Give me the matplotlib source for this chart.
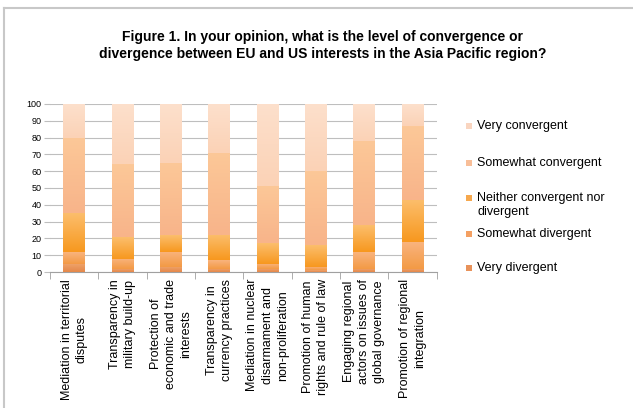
import numpy as np
import matplotlib
matplotlib.use("Agg")
import matplotlib.pyplot as plt
from matplotlib.colors import to_rgb
from matplotlib.patches import Rectangle
from matplotlib.lines import Line2D

plt.rcParams['font.family'] = ['Liberation Sans', 'DejaVu Sans']

categories = [
    "Mediation in territorial\ndisputes",
    "Transparency in\nmilitary build-up",
    "Protection of\neconomic and trade\ninterests",
    "Transparency in\ncurrency practices",
    "Mediation in nuclear\ndisarmament and\nnon-proliferation",
    "Promotion of human\nrights and rule of law",
    "Engaging regional\nactors on issues of\nglobal governance",
    "Promotion of regional\nintegration",
]

# percent of answers, bottom to top of each bar
very_div = [5, 2, 3, 2, 2, 1, 2, 2]
some_div = [7, 6, 9, 5, 3, 2, 10, 16]
neither = [23, 13, 10, 15, 12, 13, 16, 25]
some_conv = [45, 43, 43, 49, 34, 44, 50, 44]
very_conv = [20, 36, 35, 29, 49, 40, 22, 13]

series_names = ["Very divergent", "Somewhat divergent",
                "Neither convergent nor\ndivergent", "Somewhat convergent",
                "Very convergent"]
series = [very_div, some_div, neither, some_conv, very_conv]

# gradient colours (top, bottom) for each series
grad = [("#EFA46C", "#E5884A"),
        ("#F9B47E", "#F39A45"),
        ("#FCBE6C", "#F7981F"),
        ("#FCC898", "#F8B48A"),
        ("#FDE0CC", "#FBD2B6")]
legend_cols = ["#E8925A", "#F4A062", "#F6A84E", "#F8BE98", "#F9D5C0"]

fig = plt.figure(figsize=(6.33, 4.08), dpi=100)
ax = fig.add_axes([0.079, 0.3333, 0.611, 0.412])

x = np.arange(len(categories))
width = 0.45
bottom = np.zeros(len(categories))
for vals, (ctop, cbot) in zip(series, grad):
    bars = ax.bar(x, vals, width, bottom=bottom, color="none", edgecolor="none", zorder=2)
    top_rgb = np.array(to_rgb(ctop))
    bot_rgb = np.array(to_rgb(cbot))
    t = np.linspace(0, 1, 64)[:, None]
    img = (top_rgb * (1 - t) + bot_rgb * t)[:, None, :]
    for b in bars:
        x0, y0 = b.get_x(), b.get_y()
        w, h = b.get_width(), b.get_height()
        if h <= 0:
            continue
        ax.imshow(img, extent=(x0, x0 + w, y0, y0 + h), aspect="auto",
                  origin="upper", zorder=3, interpolation="bilinear")
    bottom += np.array(vals)

ax.set_xlim(-0.5, len(categories) - 0.5)
ax.set_ylim(0, 100)
ax.set_yticks(range(0, 101, 10))
ax.tick_params(axis="y", labelsize=6.5, length=4, color="#BEBEBE", pad=2)
ax.yaxis.grid(True, color="#BEBEBE", lw=0.8, zorder=0)
ax.set_axisbelow(True)

ax.set_xticks(x)
ax.set_xticklabels(categories, rotation=90, va="top", ha="center",
                   multialignment="center", fontsize=9, linespacing=1.35)
ax.tick_params(axis="x", length=0, pad=5)
ax.set_xticks(np.arange(-0.5, len(categories), 1), minor=True)
ax.tick_params(axis="x", which="minor", length=5, color="#A0A0A0", direction="out")

for s in ["top", "right", "left"]:
    ax.spines[s].set_visible(False)
ax.spines["bottom"].set_color("#A0A0A0")

fig.text(0.51, 0.888,
         "Figure 1. In your opinion, what is the level of convergence or\n"
         "divergence between EU and US interests in the Asia Pacific region?",
         ha="center", va="center", fontsize=10, fontweight="bold", linespacing=1.3)

# legend, top entry first
leg_y = [126, 163, 205, 234, 268]
for name, col, yp in zip(series_names[::-1], legend_cols[::-1], leg_y):
    sq_y = yp if "\n" not in name else 198
    fig.add_artist(Rectangle((466 / 633, 1 - (sq_y + 3) / 408), 6 / 633, 6 / 408,
                             transform=fig.transFigure, facecolor=col, edgecolor="none"))
    fig.text(477 / 633, 1 - yp / 408, name, ha="left", va="center", fontsize=9,
             linespacing=1.2)

# outer frame, cut at right and bottom
fig.add_artist(Line2D([4 / 633, 1], [1 - 8 / 408, 1 - 8 / 408], transform=fig.transFigure,
                      color="#C8C8C8", lw=1.5))
fig.add_artist(Line2D([4 / 633, 4 / 633], [0, 1 - 8 / 408], transform=fig.transFigure,
                      color="#C8C8C8", lw=1.5))

fig.savefig("out.png", dpi=100)
